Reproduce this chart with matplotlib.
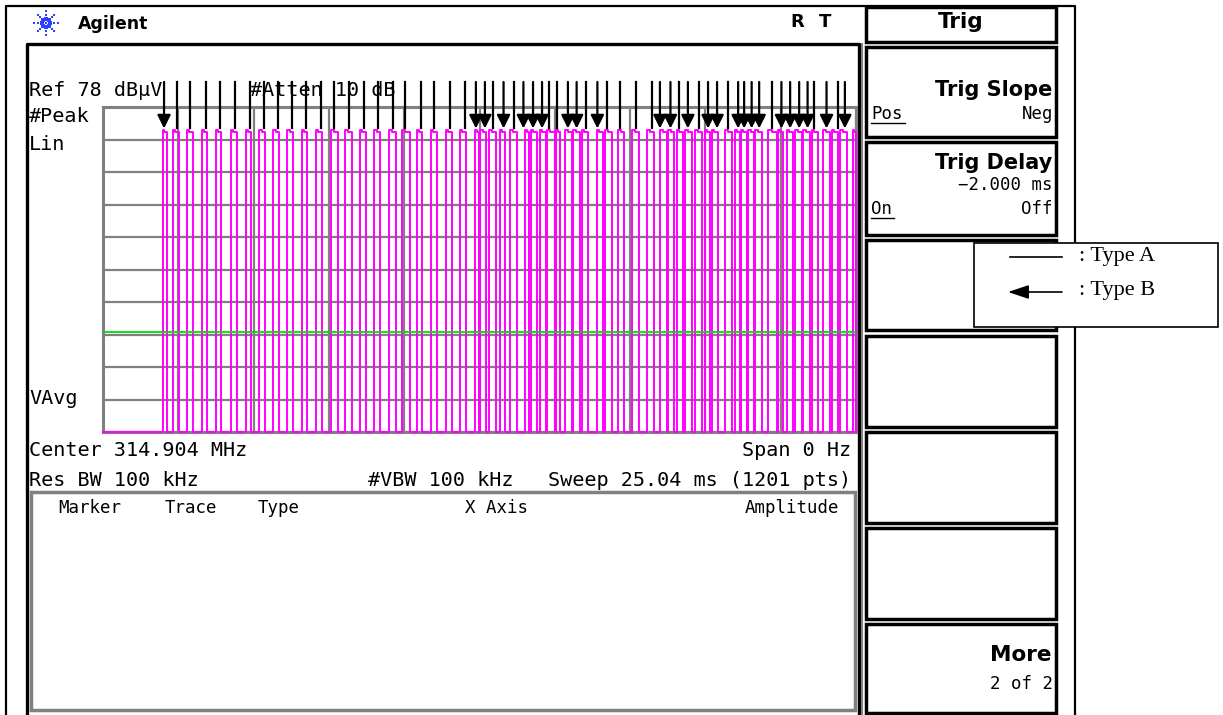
import numpy as np
import matplotlib.pyplot as plt
from matplotlib.patches import Rectangle

# zero-span sweep at 314.904 MHz, 25.04 ms wide
sweep_ms = 25.04

# burst edges in ms from the start of the sweep
pulse_on = [1.99, 2.32, 2.80, 3.28, 3.76, 4.26, 4.75, 5.20, 5.66, 6.13,
            6.61, 7.08, 7.58, 8.05, 8.55, 9.02, 9.52, 9.95, 10.43, 10.91,
            11.40, 11.87, 12.37, 12.55, 12.84, 13.20, 13.53, 14.03, 14.22, 14.53,
            14.77, 15.06, 15.36, 15.64, 15.92, 16.42, 16.69, 17.14, 17.60, 18.10,
            18.52, 18.80, 19.08, 19.35, 19.69, 20.02, 20.24, 20.68, 21.02, 21.21,
            21.46, 21.68, 22.12, 22.46, 22.74, 23.01, 23.29, 23.57, 23.95, 24.23,
            24.51, 24.95]
pulse_off = [2.12, 2.54, 2.98, 3.45, 3.93, 4.45, 4.91, 5.39, 5.86, 6.33,
             6.77, 7.27, 7.81, 8.27, 8.74, 9.21, 9.73, 10.21, 10.62, 11.10,
             11.60, 12.06, 12.50, 12.74, 13.07, 13.37, 13.76, 14.18, 14.42, 14.73,
             15.03, 15.20, 15.59, 15.86, 16.14, 16.64, 16.92, 17.33, 17.83, 18.32,
             18.75, 18.99, 19.30, 19.58, 19.91, 20.19, 20.46, 20.91, 21.18, 21.41,
             21.65, 21.90, 22.40, 22.62, 22.96, 23.23, 23.51, 23.79, 24.18, 24.45,
             24.73, 25.04]
pulse_level = 9.3      # divisions above the bottom graticule line
display_line = 3.08

# bursts tagged by type
type_a_ms = [2.46, 2.89, 3.43, 3.89, 4.39, 4.89, 5.35, 5.82, 6.29, 6.75,
             7.25, 7.68, 8.18, 8.68, 9.15, 9.64, 10.04, 10.58, 11.01, 11.54,
             12.04, 12.97, 13.67, 14.83, 15.10, 16.06, 16.76, 17.19, 17.74, 18.24,
             19.15, 19.82, 20.77, 22.25, 23.64, 24.44]
type_b_ms = [2.03, 12.40, 12.70, 13.32, 13.98, 14.30, 14.60, 15.46, 15.75, 16.44,
             18.52, 18.87, 19.45, 20.12, 20.42, 21.12, 21.32, 21.57, 21.82, 22.56,
             22.85, 23.15, 23.43, 24.06, 24.67]

MONO = 'DejaVu Sans Mono'
GRAY = '#808080'

fig = plt.figure(figsize=(12.23, 7.15), dpi=100)

# screen furniture, drawn in pixel units
bg = fig.add_axes([0, 0, 1, 1])
bg.set_xlim(0, 1223)
bg.set_ylim(715, 0)
bg.axis('off')


def txt(x, y, s, size=14.5, ha='left', bold=False, mono=True, **kw):
    bg.text(x, y, s, fontsize=size, ha=ha, va='center',
            family=MONO if mono else 'DejaVu Sans',
            fontweight='bold' if bold else 'normal', **kw)


def box(x0, y0, x1, y1, lw=2.5, ec='black', z=1):
    bg.add_patch(Rectangle((x0, y0), x1 - x0, y1 - y0, fill=True, fc='white',
                           ec=ec, lw=lw, zorder=z))


# outer frame
bg.plot([6, 6, 1075, 1075], [715, 6, 6, 715], color='black', lw=1.6)
# display frame
bg.plot([27, 27, 859, 859], [715, 44, 44, 715], color='black', lw=2.4)
bg.plot([862, 862], [44, 715], color=GRAY, lw=1.5)

# logo
for ang in np.arange(0, 360, 45):
    for r, s in [(4, 5), (8, 4), (12, 3)]:
        bg.scatter(46 + r * np.cos(np.radians(ang)), 23 + r * np.sin(np.radians(ang)),
                   s=s, marker='s', color='#2f3fff', lw=0)
bg.scatter(46, 23, s=4, marker='s', color='#2f3fff', lw=0)
txt(78, 24, 'Agilent', size=12.5, bold=True, mono=False)
txt(797, 22, 'R', size=13, bold=True, mono=False, ha='center')
txt(825, 22, 'T', size=13, bold=True, mono=False, ha='center')

# annotation text around the graticule
txt(29, 90, 'Ref 78 dBμV')
txt(250, 90, '#Atten 10 dB')
txt(29, 116, '#Peak')
txt(29, 144, 'Lin')
txt(29, 399, 'VAvg')
txt(29, 450, 'Center 314.904 MHz')
txt(851, 450, 'Span 0 Hz', ha='right')
txt(29, 480, 'Res BW 100 kHz')
txt(368, 480, '#VBW 100 kHz')
txt(851, 480, 'Sweep 25.04 ms (1201 pts)', ha='right')

# marker table
bg.add_patch(Rectangle((31, 492), 824, 218, fill=False, ec=GRAY, lw=2.5))
for x, s in [(58, 'Marker'), (165, 'Trace'), (258, 'Type'), (465, 'X Axis'), (745, 'Amplitude')]:
    txt(x, 508, s, size=12.5)

# softkeys
box(866, 7, 1056, 42)
txt(961, 22, 'Trig', size=15.5, bold=True, mono=False, ha='center')
keys = [(47, 137), (142, 235), (240, 330), (336, 427), (432, 523), (528, 619), (624, 713)]
for y0, y1 in keys:
    box(866, y0, 1056, y1)
txt(1052, 90, 'Trig Slope', size=15, bold=True, mono=False, ha='right')
txt(871, 114, 'Pos', size=12.5)
bg.plot([871, 905], [123, 123], color='black', lw=1)
txt(1053, 114, 'Neg', size=12.5, ha='right')
txt(1052, 163, 'Trig Delay', size=15, bold=True, mono=False, ha='right')
txt(1053, 185, '\u22122.000 ms', size=12.5, ha='right')
txt(871, 209, 'On', size=12.5)
bg.plot([871, 894], [218, 218], color='black', lw=1)
txt(1053, 209, 'Off', size=12.5, ha='right')
txt(1052, 655, 'More', size=15.5, bold=True, mono=False, ha='right')
txt(1053, 684, '2 of 2', size=12.5, ha='right')

# type legend
box(974, 243, 1218, 327, lw=1.2, z=3)
bg.plot([1010, 1062], [257, 257], color='black', lw=1.2, zorder=4)
bg.annotate('', xy=(1008, 292), xytext=(1062, 292), zorder=4,
            arrowprops=dict(arrowstyle='-|>,head_length=0.9,head_width=0.3',
                            color='black', lw=1.2, shrinkA=0, shrinkB=0, mutation_scale=14))
bg.text(1079, 257, ': Type A', fontsize=16, family='Liberation Serif', va='center', zorder=4)
bg.text(1079, 291, ': Type B', fontsize=16, family='Liberation Serif', va='center', zorder=4)

# graticule and trace
ax = fig.add_axes([103 / 1223, 1 - 432 / 715, 753 / 1223, 325 / 715])
ax.set_xlim(0, sweep_ms)
ax.set_ylim(0, 10)
ax.set_xticks(np.linspace(0, sweep_ms, 11))
ax.set_yticks(range(11))
ax.tick_params(length=0, labelbottom=False, labelleft=False)
ax.grid(True, color=GRAY, lw=1.6)
for sp in ax.spines.values():
    sp.set_color(GRAY)
    sp.set_linewidth(2.2)
ax.patch.set_alpha(0)

# each burst top sags slightly after the leading edge
tx, ty = [0], [0]
for on, off in zip(pulse_on, pulse_off):
    knee = on + 0.4 * (off - on)
    tx += [on, on, knee, knee, off, off]
    ty += [0, pulse_level, pulse_level, pulse_level - 0.08, pulse_level - 0.08, 0]
tx.append(sweep_ms)
ty.append(0)
ax.plot(tx, ty, color='#ff00ff', lw=1.4, clip_on=False, zorder=3)
ax.axhline(display_line, color='#00dd00', lw=1.3, zorder=4)

top, tip = 10.77, 9.34
for t in type_a_ms:
    ax.plot([t, t], [top, tip], color='black', lw=1.6, clip_on=False, zorder=5)
for t in type_b_ms:
    ax.annotate('', xy=(t, tip), xytext=(t, top), annotation_clip=False, zorder=5,
                arrowprops=dict(arrowstyle='-|>,head_length=0.4,head_width=0.2',
                                color='black', lw=1.6, shrinkA=0, shrinkB=0,
                                mutation_scale=20))

fig.savefig('out.png', dpi=100)
